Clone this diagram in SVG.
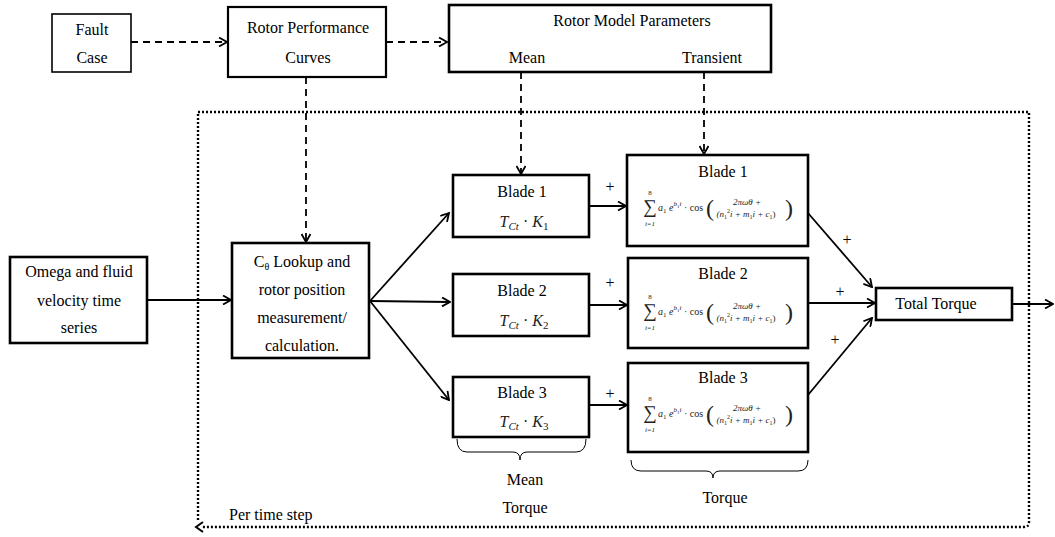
<svg xmlns="http://www.w3.org/2000/svg" width="1055" height="537" viewBox="0 0 1055 537">
<style>
.box{fill:#fff;stroke:#000;stroke-width:2.6}
.thin{stroke-width:1.6}
.t{font-family:"Liberation Serif","Times New Roman",serif;font-size:16px;text-anchor:middle;fill:#000}
.m{font-family:"Liberation Serif","Times New Roman",serif;font-style:italic;fill:#222}
.f{font-family:"Liberation Serif","Times New Roman",serif;fill:#222}
.ln{fill:none;stroke:#000;stroke-width:1.8;marker-end:url(#arr)}
.dash{stroke-dasharray:7,5}
.dot{fill:none;stroke:#000;stroke-width:2.4;stroke-dasharray:2,2}
.brace{fill:none;stroke:#000;stroke-width:1}
</style>
<defs>
<marker id="arr" viewBox="0 0 10 10" refX="9" refY="5" markerWidth="10" markerHeight="10" markerUnits="userSpaceOnUse" orient="auto">
<path d="M1,0.5 L9,5 L1,9.5" fill="none" stroke="#000" stroke-width="1.8"/>
</marker>
</defs>

<g id="boundary">
<path class="dot" d="M198,520 V112 H1029 V522 Q1029,527 1024,527 H201"/>
<path d="M203,522 L196,527 L203,532" fill="none" stroke="#000" stroke-width="2"/>
<text class="t" x="229" y="520" style="text-anchor:start">Per time step</text>
</g>

<g id="connectors">
<line class="ln dash" x1="131" y1="42" x2="227" y2="42"/>
<line class="ln dash" x1="386" y1="42" x2="447" y2="42"/>
<line class="ln dash" x1="306" y1="77" x2="306" y2="242"/>
<line class="ln dash" x1="521" y1="72" x2="521" y2="174"/>
<line class="ln dash" x1="704" y1="72" x2="704" y2="154"/>
<line class="ln" x1="147" y1="300" x2="231" y2="300"/>
<line class="ln" x1="370" y1="301" x2="449" y2="213"/>
<line class="ln" x1="370" y1="301" x2="450" y2="302"/>
<line class="ln" x1="370" y1="301" x2="449" y2="400"/>
<line class="ln" x1="589" y1="206" x2="626" y2="206"/>
<line class="ln" x1="589" y1="305" x2="627" y2="305"/>
<line class="ln" x1="589" y1="405" x2="627" y2="405"/>
<line class="ln" x1="808" y1="213" x2="872" y2="287"/>
<line class="ln" x1="808" y1="303" x2="875" y2="303"/>
<line class="ln" x1="808" y1="395" x2="872" y2="318"/>
<line class="ln" x1="1012" y1="304" x2="1053" y2="304"/>
<text class="t" x="610" y="192">+</text>
<text class="t" x="610" y="288">+</text>
<text class="t" x="610" y="399">+</text>
<text class="t" x="847" y="245">+</text>
<text class="t" x="840" y="297">+</text>
<text class="t" x="835" y="345">+</text>
</g>

<g id="fault">
<rect class="box thin" x="52" y="14" width="79" height="58"/>
<text class="t" x="92" y="35">Fault</text>
<text class="t" x="92" y="63">Case</text>
</g>

<g id="rpc">
<rect class="box" style="stroke-width:2.2" x="228" y="7" width="158" height="70"/>
<text class="t" x="308" y="33">Rotor Performance</text>
<text class="t" x="308" y="63">Curves</text>
</g>

<g id="rmp">
<rect class="box" x="449" y="5" width="322" height="67"/>
<text class="t" x="632" y="26">Rotor Model Parameters</text>
<text class="t" x="527" y="63">Mean</text>
<text class="t" x="712" y="63">Transient</text>
</g>

<g id="omega">
<rect class="box" x="10" y="257" width="137" height="86"/>
<text class="t" x="79" y="277">Omega and fluid</text>
<text class="t" x="79" y="306">velocity time</text>
<text class="t" x="79" y="333">series</text>
</g>

<g id="lookup">
<rect class="box" x="232" y="243" width="137" height="115"/>
<text class="t" x="302" y="267">C<tspan font-size="10" dy="3">θ</tspan><tspan dy="-3"> Lookup and</tspan></text>
<text class="t" x="302" y="295">rotor position</text>
<text class="t" x="302" y="323">measurement/</text>
<text class="t" x="302" y="351">calculation.</text>
</g>

<g id="mean1">
<rect class="box" x="453" y="175" width="136" height="62"/>
<text class="t" x="522" y="197">Blade 1</text>
<text class="t m" x="524" y="227" style="font-style:italic">T<tspan font-size="11" dy="3">Ct</tspan><tspan dy="-3" style="font-style:normal"> · </tspan>K<tspan font-size="11" dy="3" style="font-style:normal">1</tspan></text>
</g>
<g id="mean2">
<rect class="box" x="453" y="274" width="136" height="62"/>
<text class="t" x="522" y="296">Blade 2</text>
<text class="t m" x="524" y="326" style="font-style:italic">T<tspan font-size="11" dy="3">Ct</tspan><tspan dy="-3" style="font-style:normal"> · </tspan>K<tspan font-size="11" dy="3" style="font-style:normal">2</tspan></text>
</g>
<g id="mean3">
<rect class="box" x="453" y="377" width="136" height="60"/>
<text class="t" x="522" y="398">Blade 3</text>
<text class="t m" x="524" y="427" style="font-style:italic">T<tspan font-size="11" dy="3">Ct</tspan><tspan dy="-3" style="font-style:normal"> · </tspan>K<tspan font-size="11" dy="3" style="font-style:normal">3</tspan></text>
</g>

<g id="trans1">
<rect class="box" x="627" y="155" width="181" height="91"/>
<text class="t" x="723" y="177">Blade 1</text>
<g transform="translate(0,155)">
<text class="f" x="650" y="58" font-size="19" text-anchor="middle">∑</text>
<text class="f" x="650" y="40" font-size="7" text-anchor="middle">8</text>
<text class="m" x="650" y="71" font-size="7" text-anchor="middle">i=1</text>
<text class="m" x="658" y="56" font-size="10">a<tspan font-size="7" dy="2" style="font-style:normal">1</tspan><tspan dy="-2"> e</tspan><tspan font-size="7" dy="-5">b</tspan><tspan font-size="5" dy="1.5" style="font-style:normal">1</tspan><tspan font-size="7" dy="-1.5">i</tspan><tspan dy="5" style="font-style:normal"> · cos</tspan></text>
<text class="f" x="706" y="61" font-size="24">(</text>
<text class="f" x="785" y="61" font-size="24">)</text>
<text class="m" x="747" y="50" font-size="9" text-anchor="middle">2πωθ +</text>
<text class="m" x="746" y="62" font-size="9" text-anchor="middle">(n<tspan font-size="6" dy="2" style="font-style:normal">1</tspan><tspan font-size="6" dy="-6" style="font-style:normal">2</tspan><tspan dy="4">i + m</tspan><tspan font-size="6" dy="2" style="font-style:normal">1</tspan><tspan dy="-2">i + c</tspan><tspan font-size="6" dy="2" style="font-style:normal">1</tspan><tspan dy="-2" style="font-style:normal">)</tspan></text>
</g>
</g>

<g id="trans2">
<rect class="box" x="628" y="258" width="180" height="90"/>
<text class="t" x="723" y="279">Blade 2</text>
<g transform="translate(0,259)">
<text class="f" x="650" y="58" font-size="19" text-anchor="middle">∑</text>
<text class="f" x="650" y="40" font-size="7" text-anchor="middle">8</text>
<text class="m" x="650" y="71" font-size="7" text-anchor="middle">i=1</text>
<text class="m" x="658" y="56" font-size="10">a<tspan font-size="7" dy="2" style="font-style:normal">1</tspan><tspan dy="-2"> e</tspan><tspan font-size="7" dy="-5">b</tspan><tspan font-size="5" dy="1.5" style="font-style:normal">1</tspan><tspan font-size="7" dy="-1.5">i</tspan><tspan dy="5" style="font-style:normal"> · cos</tspan></text>
<text class="f" x="706" y="61" font-size="24">(</text>
<text class="f" x="785" y="61" font-size="24">)</text>
<text class="m" x="747" y="50" font-size="9" text-anchor="middle">2πωθ +</text>
<text class="m" x="746" y="62" font-size="9" text-anchor="middle">(n<tspan font-size="6" dy="2" style="font-style:normal">1</tspan><tspan font-size="6" dy="-6" style="font-style:normal">2</tspan><tspan dy="4">i + m</tspan><tspan font-size="6" dy="2" style="font-style:normal">1</tspan><tspan dy="-2">i + c</tspan><tspan font-size="6" dy="2" style="font-style:normal">1</tspan><tspan dy="-2" style="font-style:normal">)</tspan></text>
</g>
</g>

<g id="trans3">
<rect class="box" x="628" y="363" width="180" height="89"/>
<text class="t" x="723" y="383">Blade 3</text>
<g transform="translate(0,361)">
<text class="f" x="650" y="58" font-size="19" text-anchor="middle">∑</text>
<text class="f" x="650" y="40" font-size="7" text-anchor="middle">8</text>
<text class="m" x="650" y="71" font-size="7" text-anchor="middle">i=1</text>
<text class="m" x="658" y="56" font-size="10">a<tspan font-size="7" dy="2" style="font-style:normal">1</tspan><tspan dy="-2"> e</tspan><tspan font-size="7" dy="-5">b</tspan><tspan font-size="5" dy="1.5" style="font-style:normal">1</tspan><tspan font-size="7" dy="-1.5">i</tspan><tspan dy="5" style="font-style:normal"> · cos</tspan></text>
<text class="f" x="706" y="61" font-size="24">(</text>
<text class="f" x="785" y="61" font-size="24">)</text>
<text class="m" x="747" y="50" font-size="9" text-anchor="middle">2πωθ +</text>
<text class="m" x="746" y="62" font-size="9" text-anchor="middle">(n<tspan font-size="6" dy="2" style="font-style:normal">1</tspan><tspan font-size="6" dy="-6" style="font-style:normal">2</tspan><tspan dy="4">i + m</tspan><tspan font-size="6" dy="2" style="font-style:normal">1</tspan><tspan dy="-2">i + c</tspan><tspan font-size="6" dy="2" style="font-style:normal">1</tspan><tspan dy="-2" style="font-style:normal">)</tspan></text>
</g>
</g>

<g id="total">
<rect class="box" x="876" y="288" width="136" height="32"/>
<text class="t" x="936" y="309">Total Torque</text>
</g>

<g id="braces">
<path class="brace" d="M457,439 Q457,452 467,452 H513 Q520,452 520,460 Q520,452 527,452 H576 Q586,452 586,439"/>
<text class="t" x="525" y="485">Mean</text>
<text class="t" x="525" y="513">Torque</text>
<path class="brace" d="M631,460 Q631,471 641,471 H706 Q713,471 713,478 Q713,471 720,471 H798 Q808,471 808,460"/>
<text class="t" x="725" y="503">Torque</text>
</g>
</svg>
